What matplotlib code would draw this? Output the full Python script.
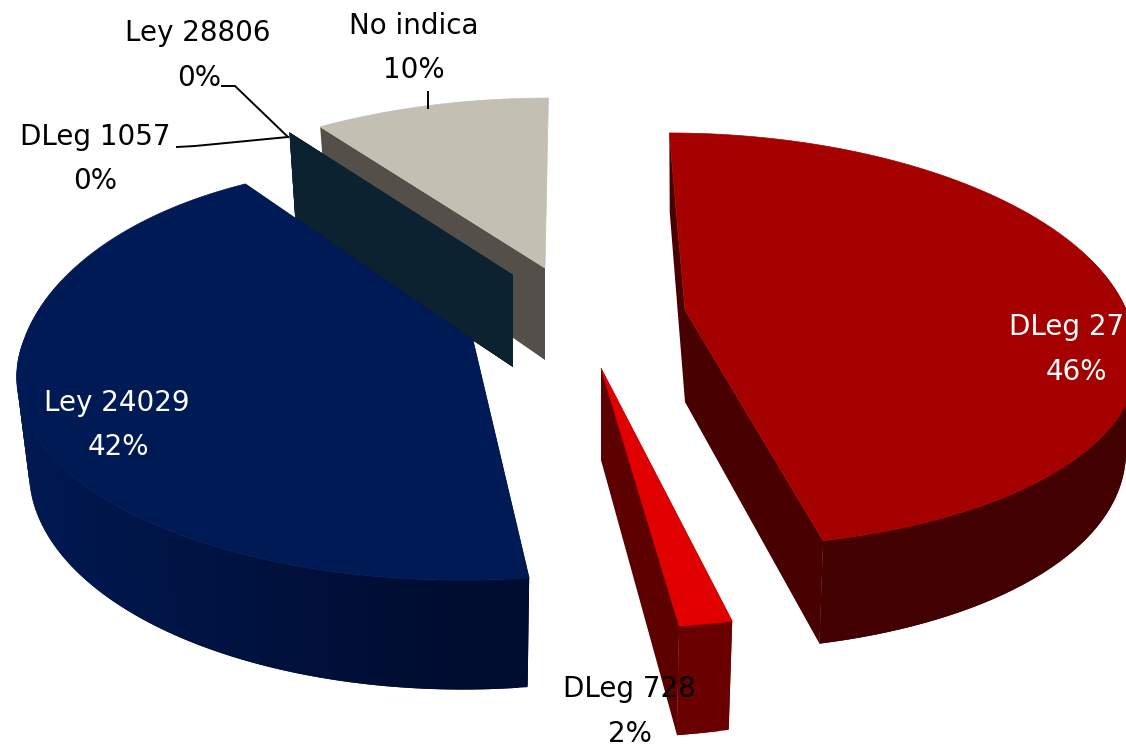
import numpy as np
import matplotlib
matplotlib.use('Agg')
import matplotlib.pyplot as plt
from matplotlib.colors import to_rgb
from matplotlib.patches import Polygon

# share of each slice, clockwise from 12 o'clock
names = ['DLeg 27', 'DLeg 728', 'Ley 24029', 'DLeg 1057', 'Ley 28806', 'No indica']
values = [46.5, 1.5, 42.0, 0.0, 0.0, 10.0]

top_colors = ['#a50000', '#e00000', '#001a55', '#0c2230', '#0c2230', '#c4bfb3']
arc_colors = ['#420000', '#6a0000', '#000c30', '#0c2230', '#0c2230', '#8f8b82']
side_colors = ['#480000', '#5c0000', '#000c30', '#0c2230', '#0c2230', '#544f48']

# exploded apex of every slice (pixels), size factor and per-slice distortion
apex_x = [685, 601, 473, 513, 513, 545]
apex_y = [310, 368, 340, 275, 275, 268]
size = [1.0, 1.07, 0.987, 0.97, 0.97, 0.96]
vanish_x = [570, 570, 530, 570, 570, 570]
rear_pull = [0, 0, 23, 0, 0, 0]
rear_width = [0.97, 1, 1, 1, 1, 1]
rear_drop = [0, 0, 0, 10, 10, 0]
front_height = [0.975, 1, 1, 1, 1, 1]
front_drop = [-6, 0, 0, 0, 0, 0]

# back-to-front drawing order
order = [5, 4, 3, 2, 1, 0]

# label centres: name then percent
name_pos = [(1067, 327), (629, 689), (117, 403), (95, 137), (198, 33), (414, 26)]
pct_pos = [(1076, 372), (630, 734), (118, 447), (95, 181), (199, 78), (414, 70)]
label_colors = ['white', 'black', 'white', 'black', 'black', 'black']

leaders = [([177, 195, 288], [147, 146, 137]),
           ([222, 235, 288], [86, 86, 137]),
           ([428, 428], [92, 108])]

Rx, Ry = 455.0, 205.0
persp = 0.158
depth = 92.0
squeeze = 0.027


def project(i, theta, drop=0.0):
    u, v = np.sin(theta), -np.cos(theta)
    back, front = np.maximum(0.0, -v), np.maximum(0.0, v)
    s = 1.0 / (1.0 - persp * v)
    wide = rear_width[i] + (1.0 - rear_width[i]) * front
    tall = 1.0 + (front_height[i] - 1.0) * front
    x = apex_x[i] + Rx * size[i] * wide * u * s + (apex_x[i] - vanish_x[i]) * (s - 1.0)
    y = apex_y[i] + Ry * size[i] * tall * v * s + rear_pull[i] * u * back
    if drop > 0:
        y = y + drop * s + rear_drop[i] * back + front_drop[i] * front
        x = x + (apex_x[i] - x) * squeeze
    return x, y


def mix(c1, c2, t):
    a, b = np.array(to_rgb(c1)), np.array(to_rgb(c2))
    return tuple(a + (b - a) * t)


fig = plt.figure(figsize=(11.26, 7.46), dpi=100)
ax = fig.add_axes([0, 0, 1, 1])
ax.set_xlim(0, 1126)
ax.set_ylim(746, 0)
ax.axis('off')

edges = np.radians(np.concatenate([[0], np.cumsum(values)]) * 3.6)

for i in order:
    t0, t1 = edges[i], edges[i + 1]
    ths = np.linspace(t0, t1, max(2, int(np.degrees(t1 - t0)) + 2))
    a0, a1 = apex_x[i], apex_y[i]
    x_top, y_top = project(i, ths)
    x_bot, y_bot = project(i, ths, depth)
    bx, by = a0, a1 + depth

    # radial walls, the one at 12 o'clock is not seen
    for k in [0, -1]:
        if k == -1 and t1 > np.radians(359):
            continue
        wall = [(a0, a1), (x_top[k], y_top[k]), (x_bot[k], y_bot[k]), (bx, by)]
        ax.add_patch(Polygon(wall, closed=True, fc=side_colors[i], ec='none'))

    # outer wall, shaded towards the front; each band overlaps the next to hide seams
    for k in range(len(ths) - 1):
        if -np.cos(ths[k]) < -0.25 and -np.cos(ths[k + 1]) < -0.25:
            continue
        e = min(k + 2, len(ths) - 1)
        quad = [(x_top[k], y_top[k]), (x_top[e], y_top[e]),
                (x_bot[e], y_bot[e]), (x_bot[k], y_bot[k])]
        t = np.clip(1.0 + np.sin(ths[k]), 0.1, 1.0)
        ax.add_patch(Polygon(quad, closed=True, fc=mix(top_colors[i], arc_colors[i], t), ec='none'))

    # top face
    if t1 > t0:
        face = np.column_stack([np.r_[a0, x_top], np.r_[a1, y_top]])
        ax.add_patch(Polygon(face, closed=True, fc=top_colors[i], ec=top_colors[i], lw=0.5))

for lx, ly in leaders:
    ax.plot(lx, ly, color='black', lw=1.4)

for i in range(len(names)):
    ax.text(name_pos[i][0], name_pos[i][1], names[i], color=label_colors[i],
            fontsize=20, ha='center', va='center', clip_on=True)
    ax.text(pct_pos[i][0], pct_pos[i][1], '%.0f%%' % values[i], color=label_colors[i],
            fontsize=20, ha='center', va='center')

fig.savefig('out.png', dpi=100)
